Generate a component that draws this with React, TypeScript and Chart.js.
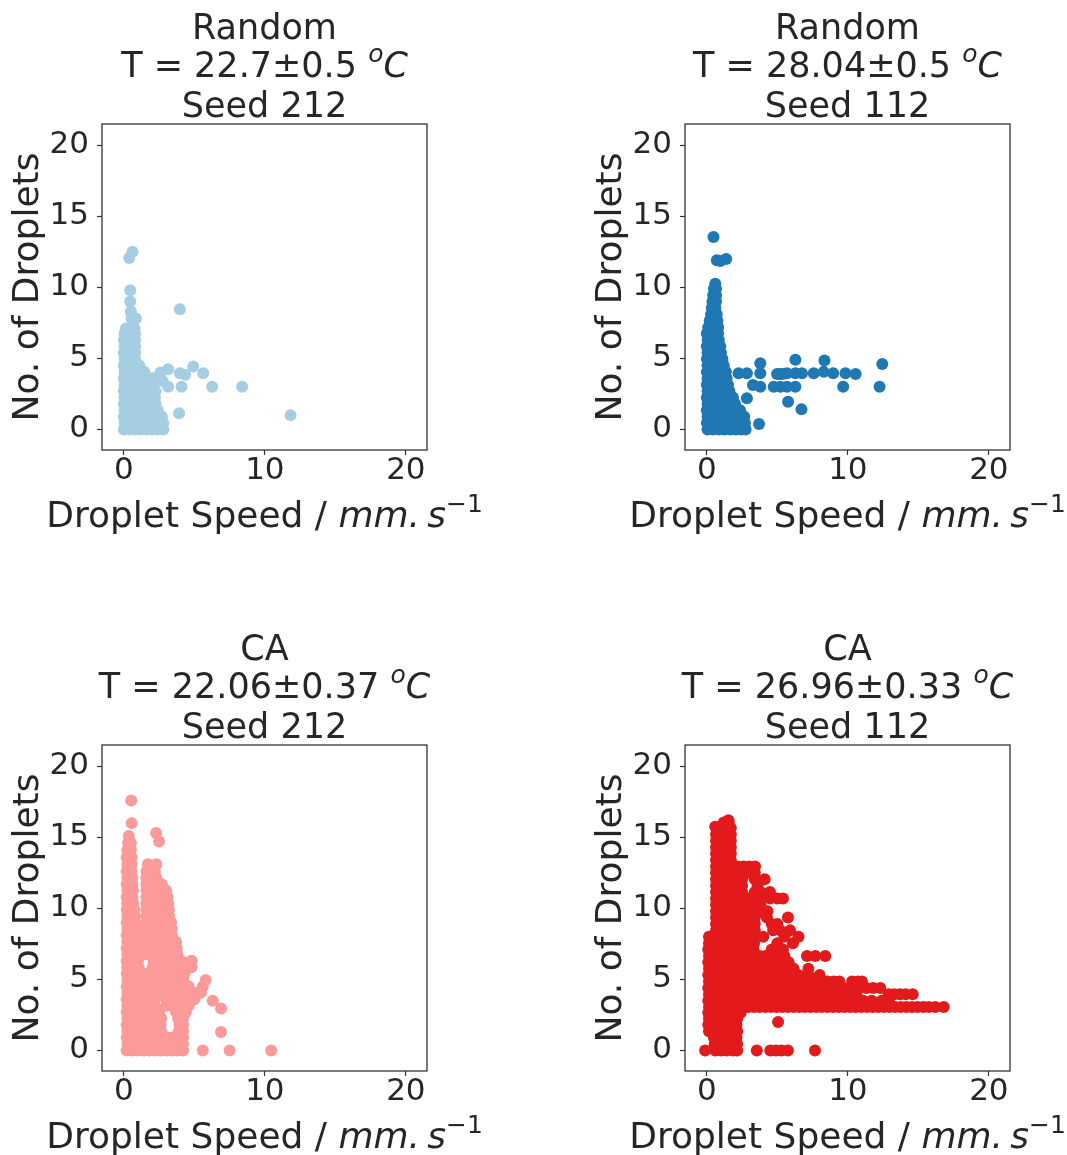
import React, { useEffect, useRef } from 'react';
import { Chart, registerables } from 'chart.js';

Chart.register(...registerables);

// ---------- axis / text data ----------
const xTicks = [0, 10, 20];
const yTicks = [0, 5, 10, 15, 20];
const xRange = [-1.55, 21.5];
const yRange = [-1.45, 21.5];

const panelMethods = ['Random', 'Random', 'CA', 'CA'];
const panelTemps = ['22.7±0.5', '28.04±0.5', '22.06±0.37', '26.96±0.33'];
const panelSeeds = ['212', '112', '212', '112'];
const panelColors = ['#a6cee3', '#1f78b4', '#fb9a99', '#e31a1c'];
const xLabelText = 'Droplet Speed / ';
const xLabelUnit = 'mm.\u2009s';
const xLabelPower = '\u22121';
const yLabelText = 'No. of Droplets';

// ---------- series values: rows are [y, x, x, ...]; extras are [x, y] ----------
const random212Rows: number[][] = [
  [0.0, 0.0, 0.4, 0.8, 1.2, 1.6, 2.0, 2.4, 2.8],
  [0.45, 0.05, 0.45, 0.85, 1.25, 1.65, 2.05, 2.45, 2.8],
  [0.9, 0.0, 0.4, 0.8, 1.2, 1.6, 2.0, 2.4, 2.7],
  [1.35, 0.05, 0.45, 0.85, 1.25, 1.65, 2.05, 2.4],
  [1.8, 0.0, 0.4, 0.8, 1.2, 1.6, 2.0, 2.25],
  [2.25, 0.05, 0.45, 0.85, 1.25, 1.65, 2.0, 2.2],
  [2.7, 0.0, 0.4, 0.8, 1.2, 1.6, 2.0, 2.25],
  [3.15, 0.05, 0.45, 0.85, 1.25, 1.65, 2.05],
  [3.6, 0.0, 0.4, 0.8, 1.2, 1.6, 2.0, 2.25],
  [4.05, 0.05, 0.45, 0.85, 1.25, 1.45],
  [4.5, 0.0, 0.4, 0.8, 1.1],
  [4.95, 0.05, 0.45, 0.8],
  [5.4, 0.0, 0.4, 0.8],
  [5.85, 0.05, 0.45, 0.8],
  [6.3, 0.0, 0.4, 0.8],
  [6.75, 0.05, 0.45, 0.8],
  [7.1, 0.15, 0.5, 0.75],
  [7.8, 0.55, 0.85],
  [8.3, 0.5],
  [9.0, 0.45],
  [9.8, 0.45],
];
const random212Extra: number[][] = [
  [0.38, 12.06], [0.61, 12.5], [3.97, 8.46], [3.14, 4.23], [3.97, 3.95], [4.35, 3.85],
  [4.92, 4.42], [5.63, 3.95], [3.14, 3.0], [4.09, 3.0], [6.26, 3.0], [8.39, 3.0],
  [3.92, 1.13], [11.82, 0.99], [2.75, 3.4], [2.6, 4.0],
];

const random112Rows: number[][] = [
  [0.0, 0.05, 0.45, 0.85, 1.25, 1.65, 2.05, 2.45, 2.75],
  [0.45, 0.0, 0.4, 0.8, 1.2, 1.6, 2.0, 2.4, 2.7],
  [0.9, 0.05, 0.45, 0.85, 1.25, 1.65, 2.05, 2.45, 2.65],
  [1.35, 0.0, 0.4, 0.8, 1.2, 1.6, 2.0, 2.35],
  [1.8, 0.05, 0.45, 0.85, 1.25, 1.65, 2.0],
  [2.25, 0.0, 0.4, 0.8, 1.2, 1.6, 1.85],
  [2.7, 0.05, 0.45, 0.85, 1.25, 1.6],
  [3.15, 0.0, 0.4, 0.8, 1.2, 1.5],
  [3.6, 0.05, 0.45, 0.85, 1.25, 1.4],
  [4.05, 0.0, 0.4, 0.8, 1.2, 1.35],
  [4.5, 0.05, 0.45, 0.85, 1.2],
  [4.95, 0.0, 0.4, 0.8, 1.1],
  [5.4, 0.05, 0.45, 0.85, 1.0],
  [5.85, 0.0, 0.4, 0.8, 0.95],
  [6.3, 0.05, 0.45, 0.85],
  [6.75, 0.0, 0.4, 0.8],
  [7.2, 0.1, 0.45, 0.8],
  [7.65, 0.2, 0.5, 0.75],
  [8.1, 0.3, 0.6, 0.7],
  [8.55, 0.35, 0.6],
  [9.0, 0.4, 0.65],
  [9.45, 0.45, 0.65],
  [9.9, 0.5, 0.65],
  [10.25, 0.6],
];
const random112Extra: number[][] = [
  [0.47, 13.55], [0.71, 11.9], [0.95, 11.85], [1.37, 12.0], [3.7, 0.38], [2.84, 2.2],
  [5.76, 1.95], [6.71, 1.41],
  [2.25, 3.95], [2.84, 3.95], [3.79, 3.95], [4.98, 3.9], [5.21, 3.9], [5.45, 3.92], [5.69, 3.95],
  [6.28, 3.95], [6.75, 3.95], [7.58, 3.95], [8.29, 4.05], [8.96, 3.95], [9.83, 3.95], [10.55, 3.9],
  [3.79, 4.65], [6.28, 4.9], [8.34, 4.85], [12.44, 4.6],
  [3.27, 3.13], [3.79, 3.0], [4.74, 3.0], [5.21, 3.0], [5.69, 3.0], [6.28, 3.0], [9.67, 3.0], [12.25, 3.0],
];

const ca212Rows: number[][] = [
  [0.0, 0.2, 0.6, 1.0, 1.4, 1.8, 2.2, 2.6, 3.0, 3.4, 3.8, 4.2],
  [0.45, 0.25, 0.65, 1.05, 1.45, 1.85, 2.25, 2.65, 3.05, 3.45, 3.85, 4.2],
  [0.9, 0.2, 0.6, 1.0, 1.4, 1.8, 2.2, 2.6, 3.0, 3.4, 3.8, 4.2],
  [1.35, 0.25, 0.65, 1.05, 1.45, 1.85, 2.25, 2.65, 3.9, 4.2],
  [1.8, 0.2, 0.6, 1.0, 1.4, 1.8, 2.2, 2.6, 3.95, 4.2],
  [2.25, 0.25, 0.65, 1.05, 1.45, 1.85, 2.25, 2.65, 3.85, 4.2],
  [2.7, 0.2, 0.6, 1.0, 1.4, 1.8, 2.2, 2.5, 3.7, 4.1, 4.4],
  [3.15, 0.25, 0.65, 1.05, 1.45, 1.85, 2.2, 3.0, 3.4, 3.8, 4.2, 4.6],
  [3.6, 0.2, 0.6, 1.0, 1.4, 1.8, 2.2, 3.0, 3.4, 3.8, 4.2, 4.6, 5.0],
  [4.05, 0.25, 0.65, 1.05, 1.45, 1.85, 2.25, 2.65, 3.05, 3.45, 3.85, 4.25, 4.65, 5.05, 5.45],
  [4.5, 0.2, 0.6, 1.0, 1.4, 1.8, 2.2, 2.6, 3.0, 3.4, 3.8, 4.2, 4.6, 5.6],
  [4.95, 0.25, 0.65, 1.05, 1.45, 1.85, 2.25, 2.65, 3.05, 3.45, 3.85, 4.2, 5.8],
  [5.4, 0.2, 0.6, 1.0, 1.4, 1.8, 2.2, 2.6, 3.0, 3.5, 3.9, 4.3],
  [5.85, 0.25, 0.65, 1.05, 2.05, 2.45, 2.85, 3.25, 3.65, 4.05, 4.4, 4.8],
  [6.3, 0.2, 0.6, 1.0, 2.1, 2.5, 2.9, 3.3, 3.7, 4.1, 4.8],
  [6.75, 0.25, 0.65, 1.05, 1.45, 1.85, 2.25, 2.65, 3.05, 3.45, 3.8],
  [7.2, 0.2, 0.6, 1.0, 1.4, 1.8, 2.2, 2.6, 3.0, 3.4, 3.75],
  [7.65, 0.25, 0.65, 1.0, 1.45, 1.85, 2.25, 2.65, 3.05, 3.45, 3.7],
  [8.1, 0.2, 0.6, 0.95, 1.5, 1.9, 2.3, 2.7, 3.1, 3.4],
  [8.55, 0.25, 0.65, 0.9, 1.55, 1.95, 2.35, 2.75, 3.1, 3.4],
  [9.0, 0.2, 0.6, 0.8, 1.6, 2.0, 2.4, 2.8, 3.2, 3.35],
  [9.45, 0.25, 0.65, 0.8, 1.6, 2.0, 2.4, 2.8, 3.2],
  [9.9, 0.2, 0.6, 0.75, 1.6, 2.0, 2.4, 2.8, 3.2],
  [10.35, 0.25, 0.65, 1.6, 2.0, 2.4, 2.8, 3.15],
  [10.8, 0.2, 0.6, 1.6, 2.0, 2.4, 2.8, 3.1],
  [11.25, 0.25, 0.65, 1.6, 2.0, 2.4, 2.75, 3.0],
  [11.7, 0.2, 0.6, 1.6, 2.0, 2.4, 2.7],
  [12.15, 0.25, 0.6, 1.6, 2.0, 2.3],
  [12.6, 0.2, 0.55, 1.6, 1.9, 2.2],
  [13.1, 0.25, 0.55, 1.7, 2.3],
  [13.6, 0.2, 0.55],
  [14.1, 0.25, 0.5],
  [14.6, 0.3, 0.5],
  [15.1, 0.35],
];
const ca212Extra: number[][] = [
  [0.52, 17.6], [0.56, 16.0], [2.29, 15.3], [2.5, 14.7], [5.6, 0.0], [7.5, 0.0], [10.45, 0.0],
  [6.89, 1.3], [6.89, 2.95], [6.3, 3.5], [5.46, 4.1], [4.8, 6.3],
];

const ca112Rows: number[][] = [
  [0.0, -0.12, 0.6, 1.0, 1.4, 1.85, 2.15, 3.54, 4.5, 4.9, 5.3, 5.75, 7.67],
  [0.45, 0.55, 0.95, 1.35, 1.75, 2.15],
  [0.9, 0.5, 0.9, 1.3, 1.7, 2.1],
  [1.35, 0.15, 0.55, 0.95, 1.35, 1.75, 2.15],
  [1.8, 0.1, 0.5, 0.9, 1.3, 1.7, 2.1],
  [2.25, 0.15, 0.55, 0.95, 1.35, 1.75, 2.15],
  [2.65, 0.1, 0.5, 0.9, 1.3, 1.7, 2.1, 2.4],
  [3.05, 0.15, 0.55, 0.95, 1.35, 1.75, 2.15, 2.55, 2.95, 3.35, 3.75, 4.15, 4.55, 4.95, 5.35, 5.75, 6.15, 6.55, 6.95, 7.35, 7.75, 8.15, 8.55, 8.95, 9.35, 9.75, 10.15, 10.55, 10.95, 11.35, 11.75, 12.15, 12.55, 12.95, 13.35, 13.75, 14.15, 14.55, 14.95, 15.35, 15.75, 16.2, 16.8],
  [3.5, 0.1, 0.5, 0.9, 1.3, 1.7, 2.1, 2.5, 2.9, 3.3, 3.7, 4.1, 4.5, 4.9, 5.3, 5.7, 6.1, 6.5, 6.9, 7.3, 7.7, 8.1, 8.5, 8.9, 9.3, 9.7, 10.1, 10.6, 11.1, 11.7, 12.4, 12.9],
  [3.95, 0.15, 0.55, 0.95, 1.35, 1.75, 2.15, 2.55, 2.95, 3.35, 3.75, 4.15, 4.55, 4.95, 5.35, 5.75, 6.15, 6.55, 6.95, 7.35, 7.75, 8.15, 8.55, 8.95, 9.35, 9.75, 10.2, 10.6, 12.9, 13.3, 13.7, 14.1, 14.6],
  [4.4, 0.1, 0.5, 0.9, 1.3, 1.7, 2.1, 2.5, 2.9, 3.3, 3.7, 4.1, 4.5, 4.9, 5.3, 5.7, 6.1, 6.5, 6.9, 7.3, 7.7, 8.1, 8.5, 8.9, 9.3, 9.7, 10.2, 10.6, 11.3, 11.8, 12.3],
  [4.85, 0.15, 0.55, 0.95, 1.35, 1.75, 2.15, 2.55, 2.95, 3.35, 3.75, 4.15, 4.55, 4.95, 5.35, 5.75, 6.15, 6.55, 6.95, 7.35, 7.75, 8.15, 8.55, 9.0, 9.4, 10.3, 10.7, 11.0],
  [5.3, 0.1, 0.5, 0.9, 1.3, 1.7, 2.1, 2.5, 2.9, 3.3, 3.7, 4.1, 4.5, 4.9, 5.3, 5.7, 6.1, 6.5, 7.2, 8.0],
  [5.75, 0.15, 0.55, 0.95, 1.35, 1.75, 2.15, 2.55, 2.95, 3.35, 3.75, 4.15, 4.55, 4.95, 5.35, 5.75, 6.15, 7.2],
  [6.2, 0.1, 0.5, 0.9, 1.3, 1.7, 2.1, 2.5, 2.9, 3.3, 3.7, 4.1, 4.5, 4.9, 5.3, 5.8],
  [6.65, 0.15, 0.55, 0.95, 1.35, 1.75, 2.15, 2.55, 2.95, 3.35, 3.75, 4.15, 4.55, 4.95, 5.5, 7.1, 7.7, 8.4],
  [7.1, 0.1, 0.5, 0.9, 1.3, 1.7, 2.1, 2.5, 2.9, 3.3, 4.6, 5.0, 5.4],
  [7.55, 0.15, 0.55, 0.95, 1.35, 1.75, 2.15, 2.55, 2.95, 3.35, 5.0, 6.1],
  [8.0, 0.15, 0.55, 0.95, 1.35, 1.75, 2.15, 2.55, 2.95, 3.35, 4.0, 5.5, 6.5],
  [8.45, 0.65, 1.05, 1.45, 1.85, 2.25, 2.65, 3.0, 3.4, 4.7, 5.2, 5.9],
  [8.9, 0.65, 1.05, 1.45, 1.85, 2.25, 2.65, 3.0, 3.4, 4.6, 5.0],
  [9.35, 0.65, 1.05, 1.45, 1.85, 2.25, 2.65, 3.0, 3.4, 4.26, 5.75],
  [9.8, 0.65, 1.05, 1.45, 1.85, 2.25, 2.65, 3.0, 3.4, 3.8, 4.3],
  [10.25, 0.65, 1.05, 1.45, 1.85, 2.25, 2.65, 3.0, 3.4, 3.8],
  [10.7, 0.65, 1.05, 1.45, 1.85, 2.25, 2.65, 3.0, 3.4, 3.8, 4.48, 5.0, 5.4],
  [11.15, 0.65, 1.05, 1.45, 1.85, 2.25, 2.5, 3.4, 3.8, 4.48],
  [11.6, 0.65, 1.05, 1.45, 1.85, 2.25, 2.5, 3.6],
  [12.05, 0.65, 1.05, 1.45, 1.85, 2.25, 2.5, 3.4, 4.1],
  [12.5, 0.65, 1.05, 1.45, 1.85, 2.25, 2.6, 3.0, 3.4],
  [12.95, 0.65, 1.05, 1.45, 1.85, 2.2, 2.6, 3.0, 3.42],
  [13.4, 0.65, 1.0, 1.35, 1.7],
  [13.85, 0.65, 1.0, 1.35, 1.7],
  [14.3, 0.65, 1.0, 1.35, 1.7],
  [14.75, 0.65, 1.0, 1.35, 1.7],
  [15.2, 0.65, 1.0, 1.35, 1.7],
  [15.65, 0.7, 1.05, 1.4, 1.7],
  [16.05, 1.2, 1.55],
];
const ca112Extra: number[][] = [
  [5.05, 2.0], [0.59, 15.75], [1.53, 16.2],
];

const panelRows = [random212Rows, random112Rows, ca212Rows, ca112Rows];
const panelExtras = [random212Extra, random112Extra, ca212Extra, ca112Extra];

// ---------- layout (pixels) ----------
const FONT = '"DejaVu Sans", "Liberation Sans", sans-serif';
const TEXT_COLOR = '#262626';
const AXIS_COLOR = '#333333';
const PLOT_LEFT = 102;
const PLOT_TOP = 124;
const PLOT_RIGHT = 427;
const PLOT_BOTTOM = 450;
const X_AXIS_H = 60;

type Seg = { t: string; it?: boolean; sup?: boolean };

function drawRich(ctx: CanvasRenderingContext2D, segs: Seg[], cx: number, baseline: number, size: number) {
  const fontFor = (s: Seg) => `${s.it ? 'italic ' : ''}${s.sup ? Math.round(size * 0.7) : size}px ${FONT}`;
  let total = 0;
  const widths = segs.map((s) => {
    ctx.font = fontFor(s);
    const w = ctx.measureText(s.t).width;
    total += w;
    return w;
  });
  let x = cx - total / 2;
  ctx.textAlign = 'left';
  ctx.textBaseline = 'alphabetic';
  segs.forEach((s, i) => {
    ctx.font = fontFor(s);
    ctx.fillText(s.t, x, baseline - (s.sup ? size * 0.42 : 0));
    x += widths[i];
  });
}

function toPoints(rows: number[][], extra: number[][]) {
  const pts: { x: number; y: number }[] = [];
  rows.forEach((r) => {
    for (let i = 1; i < r.length; i++) pts.push({ x: r[i], y: r[0] });
  });
  extra.forEach((p) => pts.push({ x: p[0], y: p[1] }));
  return pts;
}

function Panel({ idx, left, top, width, height }: { idx: number; left: number; top: number; width: number; height: number }) {
  const ref = useRef<HTMLCanvasElement>(null);
  useEffect(() => {
    const canvas = ref.current;
    if (!canvas) return;
    const textPlugin = {
      id: 'panelText' + idx,
      afterDraw(chart: any) {
        const ctx: CanvasRenderingContext2D = chart.ctx;
        const a = chart.chartArea;
        const cx = (a.left + a.right) / 2;
        ctx.save();
        ctx.strokeStyle = AXIS_COLOR;
        ctx.lineWidth = 1.3;
        ctx.strokeRect(a.left, a.top, a.right - a.left, a.bottom - a.top);
        ctx.fillStyle = TEXT_COLOR;
        drawRich(ctx, [{ t: panelMethods[idx] }], cx, a.top - 85, 35);
        drawRich(
          ctx,
          [{ t: 'T = ' + panelTemps[idx] + ' ' }, { t: 'o', it: true, sup: true }, { t: 'C', it: true }],
          cx,
          a.top - 47,
          35
        );
        drawRich(ctx, [{ t: 'Seed ' + panelSeeds[idx] }], cx, a.top - 7, 35);
        drawRich(
          ctx,
          [{ t: xLabelText }, { t: xLabelUnit, it: true }, { t: xLabelPower, sup: true }],
          cx,
          a.bottom + 77,
          36
        );
        ctx.translate(a.left - 64, (a.top + a.bottom) / 2);
        ctx.rotate(-Math.PI / 2);
        ctx.font = `36px ${FONT}`;
        ctx.textAlign = 'center';
        ctx.textBaseline = 'alphabetic';
        ctx.fillText(yLabelText, 0, 0);
        ctx.restore();
      },
    };
    const chart = new Chart(canvas, {
      type: 'scatter',
      data: {
        datasets: [
          {
            data: toPoints(panelRows[idx], panelExtras[idx]),
            backgroundColor: panelColors[idx],
            borderWidth: 0,
            pointRadius: 6,
            pointHoverRadius: 6,
          },
        ],
      },
      options: {
        responsive: false,
        maintainAspectRatio: false,
        animation: false,
        events: [],
        layout: {
          padding: { left: 0, top: PLOT_TOP, right: width - PLOT_RIGHT, bottom: height - PLOT_BOTTOM - X_AXIS_H },
        },
        plugins: { legend: { display: false }, tooltip: { enabled: false }, title: { display: false } },
        scales: {
          x: {
            type: 'linear',
            min: xRange[0],
            max: xRange[1],
            afterFit: (s: any) => {
              s.height = X_AXIS_H;
            },
            afterBuildTicks: (s: any) => {
              s.ticks = xTicks.map((v) => ({ value: v }));
            },
            grid: { display: true, drawOnChartArea: false, drawTicks: true, tickLength: 5, tickColor: AXIS_COLOR, tickWidth: 1.2 },
            border: { display: false },
            ticks: { font: { family: FONT, size: 31 }, color: TEXT_COLOR, padding: -3, maxRotation: 0, autoSkip: false },
          },
          y: {
            type: 'linear',
            min: yRange[0],
            max: yRange[1],
            afterFit: (s: any) => {
              s.width = PLOT_LEFT;
            },
            afterBuildTicks: (s: any) => {
              s.ticks = yTicks.map((v) => ({ value: v }));
            },
            grid: { display: true, drawOnChartArea: false, drawTicks: true, tickLength: 5, tickColor: AXIS_COLOR, tickWidth: 1.2 },
            border: { display: false },
            ticks: { font: { family: FONT, size: 31 }, color: TEXT_COLOR, padding: 8, autoSkip: false },
          },
        },
      } as any,
      plugins: [textPlugin],
    });
    return () => chart.destroy();
  }, [idx, width, height]);
  return (
    <canvas
      ref={ref}
      width={width}
      height={height}
      style={{ position: 'absolute', left, top, width, height, display: 'block' }}
    />
  );
}

export default function App() {
  return (
    <div style={{ position: 'absolute', left: 0, top: 0, width: 1067, height: 1155, overflow: 'hidden', background: '#ffffff' }}>
      <Panel idx={0} left={0} top={0} width={583} height={600} />
      <Panel idx={1} left={583} top={0} width={484} height={600} />
      <Panel idx={2} left={0} top={621} width={583} height={534} />
      <Panel idx={3} left={583} top={621} width={484} height={534} />
    </div>
  );
}
